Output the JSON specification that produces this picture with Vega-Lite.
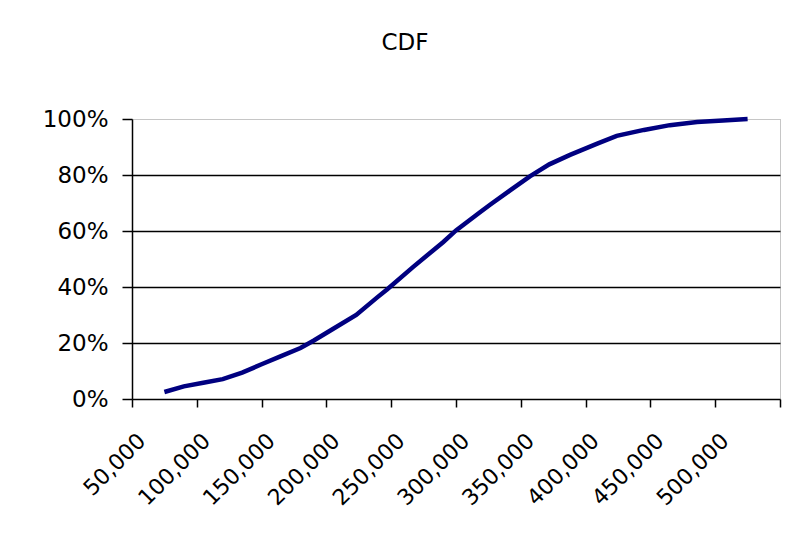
{
  "$schema": "https://vega.github.io/schema/vega-lite/v6.json",
  "width": 648,
  "height": 280,
  "autosize": {"type": "none"},
  "padding": {"left": 132, "top": 119, "right": 18, "bottom": 139},
  "background": "white",
  "title": {
    "text": "CDF",
    "font": "DejaVu Sans",
    "fontSize": 23,
    "fontWeight": "normal",
    "color": "black",
    "anchor": "middle",
    "frame": "group",
    "dx": -51,
    "baseline": "alphabetic",
    "offset": 35
  },
  "config": {
    "view": {"stroke": "#8c8c8c", "strokeDash": [1, 1], "strokeWidth": 1}
  },
  "data": {
    "values": [
      {"value": 50000, "cdf": 0.025},
      {"value": 65000, "cdf": 0.045},
      {"value": 80000, "cdf": 0.058},
      {"value": 95000, "cdf": 0.071},
      {"value": 110000, "cdf": 0.094},
      {"value": 125000, "cdf": 0.124},
      {"value": 140000, "cdf": 0.153},
      {"value": 155000, "cdf": 0.182},
      {"value": 165000, "cdf": 0.208},
      {"value": 180000, "cdf": 0.250},
      {"value": 198000, "cdf": 0.300},
      {"value": 214000, "cdf": 0.362},
      {"value": 222000, "cdf": 0.392},
      {"value": 242000, "cdf": 0.472},
      {"value": 265000, "cdf": 0.560},
      {"value": 275000, "cdf": 0.602},
      {"value": 293000, "cdf": 0.665},
      {"value": 301000, "cdf": 0.693},
      {"value": 317000, "cdf": 0.746},
      {"value": 332000, "cdf": 0.795},
      {"value": 347000, "cdf": 0.838},
      {"value": 363000, "cdf": 0.872},
      {"value": 384000, "cdf": 0.912},
      {"value": 399000, "cdf": 0.940},
      {"value": 420000, "cdf": 0.961},
      {"value": 440000, "cdf": 0.978},
      {"value": 461000, "cdf": 0.989},
      {"value": 481000, "cdf": 0.995},
      {"value": 500000, "cdf": 1.0}
    ]
  },
  "mark": {"type": "line", "color": "#000080", "strokeWidth": 4.5, "clip": false},
  "encoding": {
    "x": {
      "field": "value",
      "type": "quantitative",
      "scale": {"domain": [25000, 525000], "nice": false, "zero": false},
      "axis": {
        "title": null,
        "values": [25000, 50000, 75000, 100000, 125000, 150000, 175000, 200000, 225000, 250000, 275000, 300000, 325000, 350000, 375000, 400000, 425000, 450000, 475000, 500000, 525000],
        "labelExpr": "datum.value % 50000 == 0 ? format(datum.value, ',') : ''",
        "grid": false,
        "domainColor": "black",
        "domainWidth": 1.5,
        "tickColor": "black",
        "tickWidth": 1.5,
        "tickSize": 8,
        "tickOpacity": {"condition": {"test": "datum.value % 50000 == 0", "value": 0}, "value": 1},
        "labelAngle": -45,
        "labelAlign": "right",
        "labelBaseline": "middle",
        "labelFont": "DejaVu Sans",
        "labelFontSize": 22,
        "labelColor": "black",
        "labelPadding": 30,
        "labelOffset": -23,
        "labelOverlap": false,
        "labelBound": false,
        "labelFlush": false
      }
    },
    "y": {
      "field": "cdf",
      "type": "quantitative",
      "scale": {"domain": [0, 1], "nice": false},
      "axis": {
        "title": null,
        "values": [0, 0.2, 0.4, 0.6, 0.8, 1.0],
        "format": ".0%",
        "grid": true,
        "gridColor": {"condition": {"test": "datum.value >= 0.99 || datum.value <= 0.01", "value": "transparent"}, "value": "black"},
        "gridWidth": 1.3,
        "domainColor": "black",
        "domainWidth": 1.5,
        "tickColor": "black",
        "tickWidth": 1.5,
        "tickSize": 10,
        "labelFont": "DejaVu Sans",
        "labelFontSize": 23,
        "labelColor": "black",
        "labelPadding": 14,
        "labelFlush": false,
        "labelBound": false
      }
    }
  }
}
